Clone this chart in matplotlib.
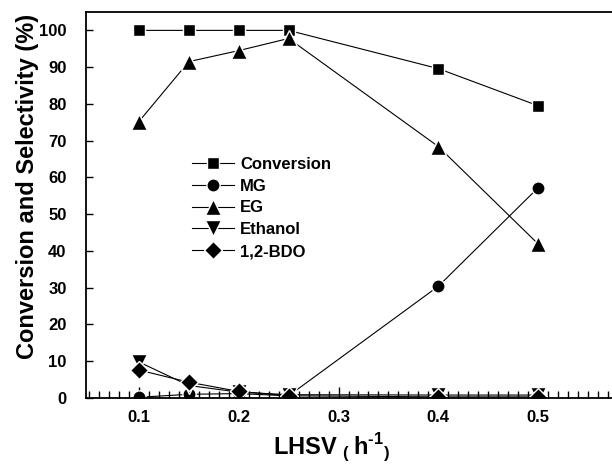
import numpy as np
import matplotlib
matplotlib.use("Agg")
import matplotlib.pyplot as plt
from matplotlib.ticker import MultipleLocator

plt.rcParams['font.family'] = ['Liberation Sans', 'DejaVu Sans']
plt.rcParams['font.weight'] = 'bold'
plt.rcParams['mathtext.fontset'] = 'custom'
plt.rcParams['mathtext.rm'] = 'Liberation Sans:bold'
plt.rcParams['mathtext.bf'] = 'Liberation Sans:bold'
plt.rcParams['mathtext.sf'] = 'Liberation Sans'

# data
lhsv = [0.1, 0.15, 0.2, 0.25, 0.4, 0.5]
conversion = [100, 100, 100, 100, 89.6, 79.5]
mg = [0.2, 1.0, 1.2, 0.6, 30.4, 57.2]
eg = [75.2, 91.5, 94.5, 97.8, 68.4, 41.9]
ethanol = [9.8, 3.4, 1.6, 0.9, 0.8, 0.8]
bdo = [7.6, 4.3, 1.8, 0.6, 0.3, 0.3]

series = [
    ("Conversion", conversion, 's', 9),
    ("MG", mg, 'o', 9.5),
    ("EG", eg, '^', 11),
    ("Ethanol", ethanol, 'v', 11),
    ("1,2-BDO", bdo, 'D', 9),
]

fig = plt.figure(figsize=(6.12, 4.66), dpi=100)
ax = fig.add_axes([86/612, 68/466, 1 - 86/612, 386/466])

for name, vals, mk, ms in series:
    ax.plot(lhsv, vals, color='black', lw=0.8, marker=mk, ms=ms,
            mfc='black', mec='white', mew=1.0, label=name)

ax.set_xlim(0.047, 0.574)
ax.set_ylim(0, 105)
ax.spines['right'].set_visible(False)
for s in ['left', 'bottom', 'top']:
    ax.spines[s].set_linewidth(1.3)

ax.xaxis.set_major_locator(MultipleLocator(0.1))
ax.xaxis.set_minor_locator(MultipleLocator(0.01))
ax.yaxis.set_major_locator(MultipleLocator(10))
ax.tick_params(axis='x', which='major', direction='in', length=8, width=1,
               top=False, labelsize=12, pad=9)
ax.tick_params(axis='x', which='minor', direction='in', length=5, width=1, top=False)
ax.tick_params(axis='y', which='major', direction='in', length=5, width=1,
               right=False, labelsize=12, pad=14)
for lab in ax.get_xticklabels() + ax.get_yticklabels():
    lab.set_fontweight('bold')

ax.set_ylabel("Conversion and Selectivity (%)", fontsize=17, fontweight='bold')
ax.yaxis.set_label_coords(-0.09, 0.549)
ax.set_xlabel(r"LHSV $_{\mathsf{(}}\,\mathrm{h}^{\text{-1}}{}_{\mathsf{)}}$",
              fontsize=17, fontweight='bold')
ax.xaxis.set_label_coords(0.466, -0.086)

leg = ax.legend(loc='upper left', bbox_to_anchor=(0.2015, 0.625), frameon=False,
                fontsize=12, handlelength=2.5, handletextpad=0.4, labelspacing=0.41,
                borderpad=0, borderaxespad=0, numpoints=1)
for t in leg.get_texts():
    t.set_fontweight('bold')

fig.savefig("out.png", dpi=100)
